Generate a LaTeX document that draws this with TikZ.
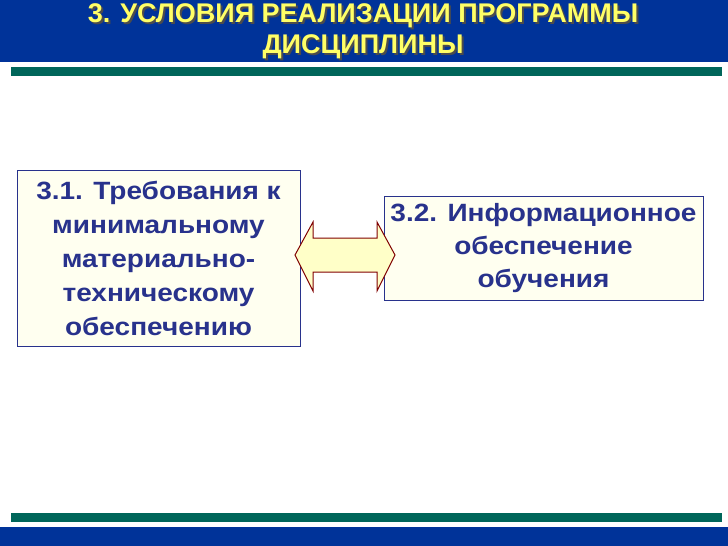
\documentclass[tikz,border=0pt]{standalone}
\usepackage{fontspec}
\setmainfont{Liberation Sans}
\definecolor{BandClr}{RGB}{0,51,153}
\definecolor{BarClr}{RGB}{0,102,90}
\definecolor{TitleClr}{RGB}{255,255,102}
\definecolor{TextClr}{RGB}{40,50,140}
\definecolor{BoxClr}{RGB}{255,255,240}
\definecolor{ArrowClr}{RGB}{128,0,0}
\definecolor{ArrowFill}{RGB}{255,255,200}
\begin{document}
\begin{tikzpicture}[x=1pt,y=-1pt,
  box/.style={draw=TextClr,line width=1pt,fill=BoxClr,inner sep=0pt},
  boxtext/.style={text=TextClr,align=center,xscale=1.12,font=\bfseries\fontsize{25}{34}\selectfont},
  title/.style={font=\bfseries\fontsize{27}{31}\selectfont,align=center}]
\useasboundingbox (0,0) rectangle (728,546);
\fill[BandClr] (0,0) rectangle (728,62);
\fill[BandClr] (0,527) rectangle (728,546);
\fill[BarClr] (11,67) rectangle (722,76);
\fill[BarClr] (11,513) rectangle (722,522);

\node[title,text=black!70] at (365,33) {3. УСЛОВИЯ РЕАЛИЗАЦИИ ПРОГРАММЫ\\ДИСЦИПЛИНЫ};
\node[title,text=TitleClr] (title) at (363,31) {3. УСЛОВИЯ РЕАЛИЗАЦИИ ПРОГРАММЫ\\ДИСЦИПЛИНЫ};

\node[box,minimum width=283pt,minimum height=176pt] (req) at (158.5,258) {};
\node[boxtext] at (req) {3.1. Требования к\\минимальному\\материально-\\техническому\\обеспечению};
\node[box,minimum width=319pt,minimum height=104pt] (info) at (543.5,248) {};
\node[boxtext,font=\bfseries\fontsize{25}{33}\selectfont] at (info) {3.2. Информационное\\обеспечение\\обучения};

\draw[ArrowClr,line width=1pt,fill=ArrowFill]
  (295,255) -- (313,222) -- (313,238) -- (377,238) -- (377,222) -- (395,255)
  -- (377,291) -- (377,272) -- (313,272) -- (313,291) -- cycle;
\end{tikzpicture}
\end{document}
